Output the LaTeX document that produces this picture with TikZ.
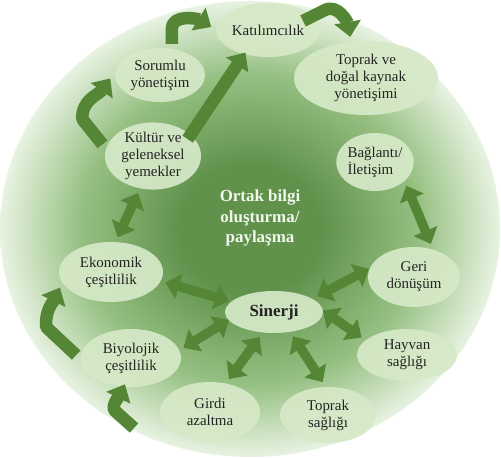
\documentclass[tikz,border=0pt]{standalone}
\usepackage{fontspec}
\setmainfont{Liberation Serif}
\usetikzlibrary{arrows.meta,shapes.geometric,calc}

\definecolor{arrowgreen}{RGB}{84,134,54}
\definecolor{bubblefill}{RGB}{214,233,200}
\definecolor{labeltext}{RGB}{35,35,35}
\definecolor{coretext}{RGB}{242,247,236}
\definecolor{glowA}{RGB}{96,146,76}
\definecolor{glowB}{RGB}{150,192,130}
\definecolor{glowC}{RGB}{232,243,226}

% soft green disc: dark in the middle, pale towards the rim
\pgfdeclareradialshading{bgglow}{\pgfpoint{0bp}{0bp}}{%
  color(0bp)=(glowA); color(7bp)=(glowA); color(17bp)=(glowB);
  color(25bp)=(glowC); color(50bp)=(glowC)}

\begin{document}
\begin{tikzpicture}[x=1bp,y=1bp,
  bubble/.style={ellipse, fill=bubblefill, fill opacity=0.92, text opacity=1,
    inner sep=0pt, outer sep=5bp, align=center, text=labeltext,
    font=\fontsize{15}{17}\selectfont},
  link/.style={draw=arrowgreen, line width=9.5bp,
    {Triangle[width=25bp,length=14bp]}-{Triangle[width=25bp,length=14bp]}},
  flow/.style={draw=arrowgreen, line width=12.5bp, line join=round,
    -{Triangle[width=26bp,length=15bp]}},
]
\useasboundingbox (0,0) rectangle (501,458);
\fill[white] (0,0) rectangle (501,458);

\shade[shading=bgglow] (250,229) ellipse [x radius=250, y radius=228];

% topic bubbles
\node[bubble, minimum width=104bp, minimum height=54bp] (kat) at (268,428) {Katılımcılık};
\node[bubble, minimum width=90bp, minimum height=54bp] (sor) at (160,383) {Sorumlu\\yönetişim};
\node[bubble, minimum width=144bp, minimum height=74bp] (tdk) at (366,380) {Toprak ve\\doğal kaynak\\yönetişimi};
\node[bubble, minimum width=96bp, minimum height=66bp] (kul) at (153,302) {Kültür ve\\geleneksel\\yemekler};
\node[bubble, minimum width=76bp, minimum height=58bp, align=left] (bag) at (375,296) {Bağlantı/\\İletişim};
\node[bubble, minimum width=104bp, minimum height=60bp] (eko) at (111,186) {Ekonomik\\çeşitlilik};
\node[bubble, minimum width=92bp, minimum height=60bp] (geri) at (414,181) {Geri\\dönüşüm};
\node[bubble, minimum width=98bp, minimum height=42bp,
  font=\bfseries\fontsize{17}{19}\selectfont] (sin) at (274,146) {Sinerji};
\node[bubble, minimum width=100bp, minimum height=52bp] (hay) at (407,103) {Hayvan\\sağlığı};
\node[bubble, minimum width=96bp, minimum height=56bp] (tps) at (328,43) {Toprak\\sağlığı};
\node[bubble, minimum width=100bp, minimum height=60bp] (gir) at (210,46) {Girdi\\azaltma};
\node[bubble, minimum width=100bp, minimum height=58bp] (biy) at (131,100) {Biyolojik\\çeşitlilik};

\node[font=\bfseries\fontsize{17}{20.5}\selectfont, text=coretext, align=center]
  (core) at (260,240) {Ortak bilgi\\oluşturma/\\paylaşma};

% two-way links
\draw[link] (kul.248) -- (eko.79);
\draw[link] (bag.323) -- (geri.63);
\draw[link, shorten >=-3bp] (eko.349) -- (sin.166);
\draw[link, shorten >=-5bp] (biy.11) -- (sin.192);
\draw[link] (gir.60) -- (sin.240);
\draw[link] (tps.99) -- (sin.308);
\draw[link, shorten >=-6bp] (hay.159) -- (sin.358);
\draw[link, shorten <=-6bp] (geri.174) -- (sin.20);

% one-way flow
\draw[flow, shorten <=-10bp, shorten >=-7bp] (kul.32) -- (kat.227);
\draw[flow] (kul.167) -- ++(-20,25) to[out=95,in=235] (sor.184);
\draw[flow] (sor.69) -- ++(0,15) to[out=90,in=148] (kat.177);
\draw[flow] ($(kat.center)+(35,9)$) -- ++(22,11) to[out=26,in=100] (tdk.111);
\draw[flow] (biy.177) -- ++(-30,28) to[out=95,in=244] (eko.197);
\coordinate (bstart) at (134,30);
\draw[flow, shorten >=-8bp] (bstart) -- ++(-20,18) to[out=100,in=244] (biy.254);
\end{tikzpicture}
\end{document}
